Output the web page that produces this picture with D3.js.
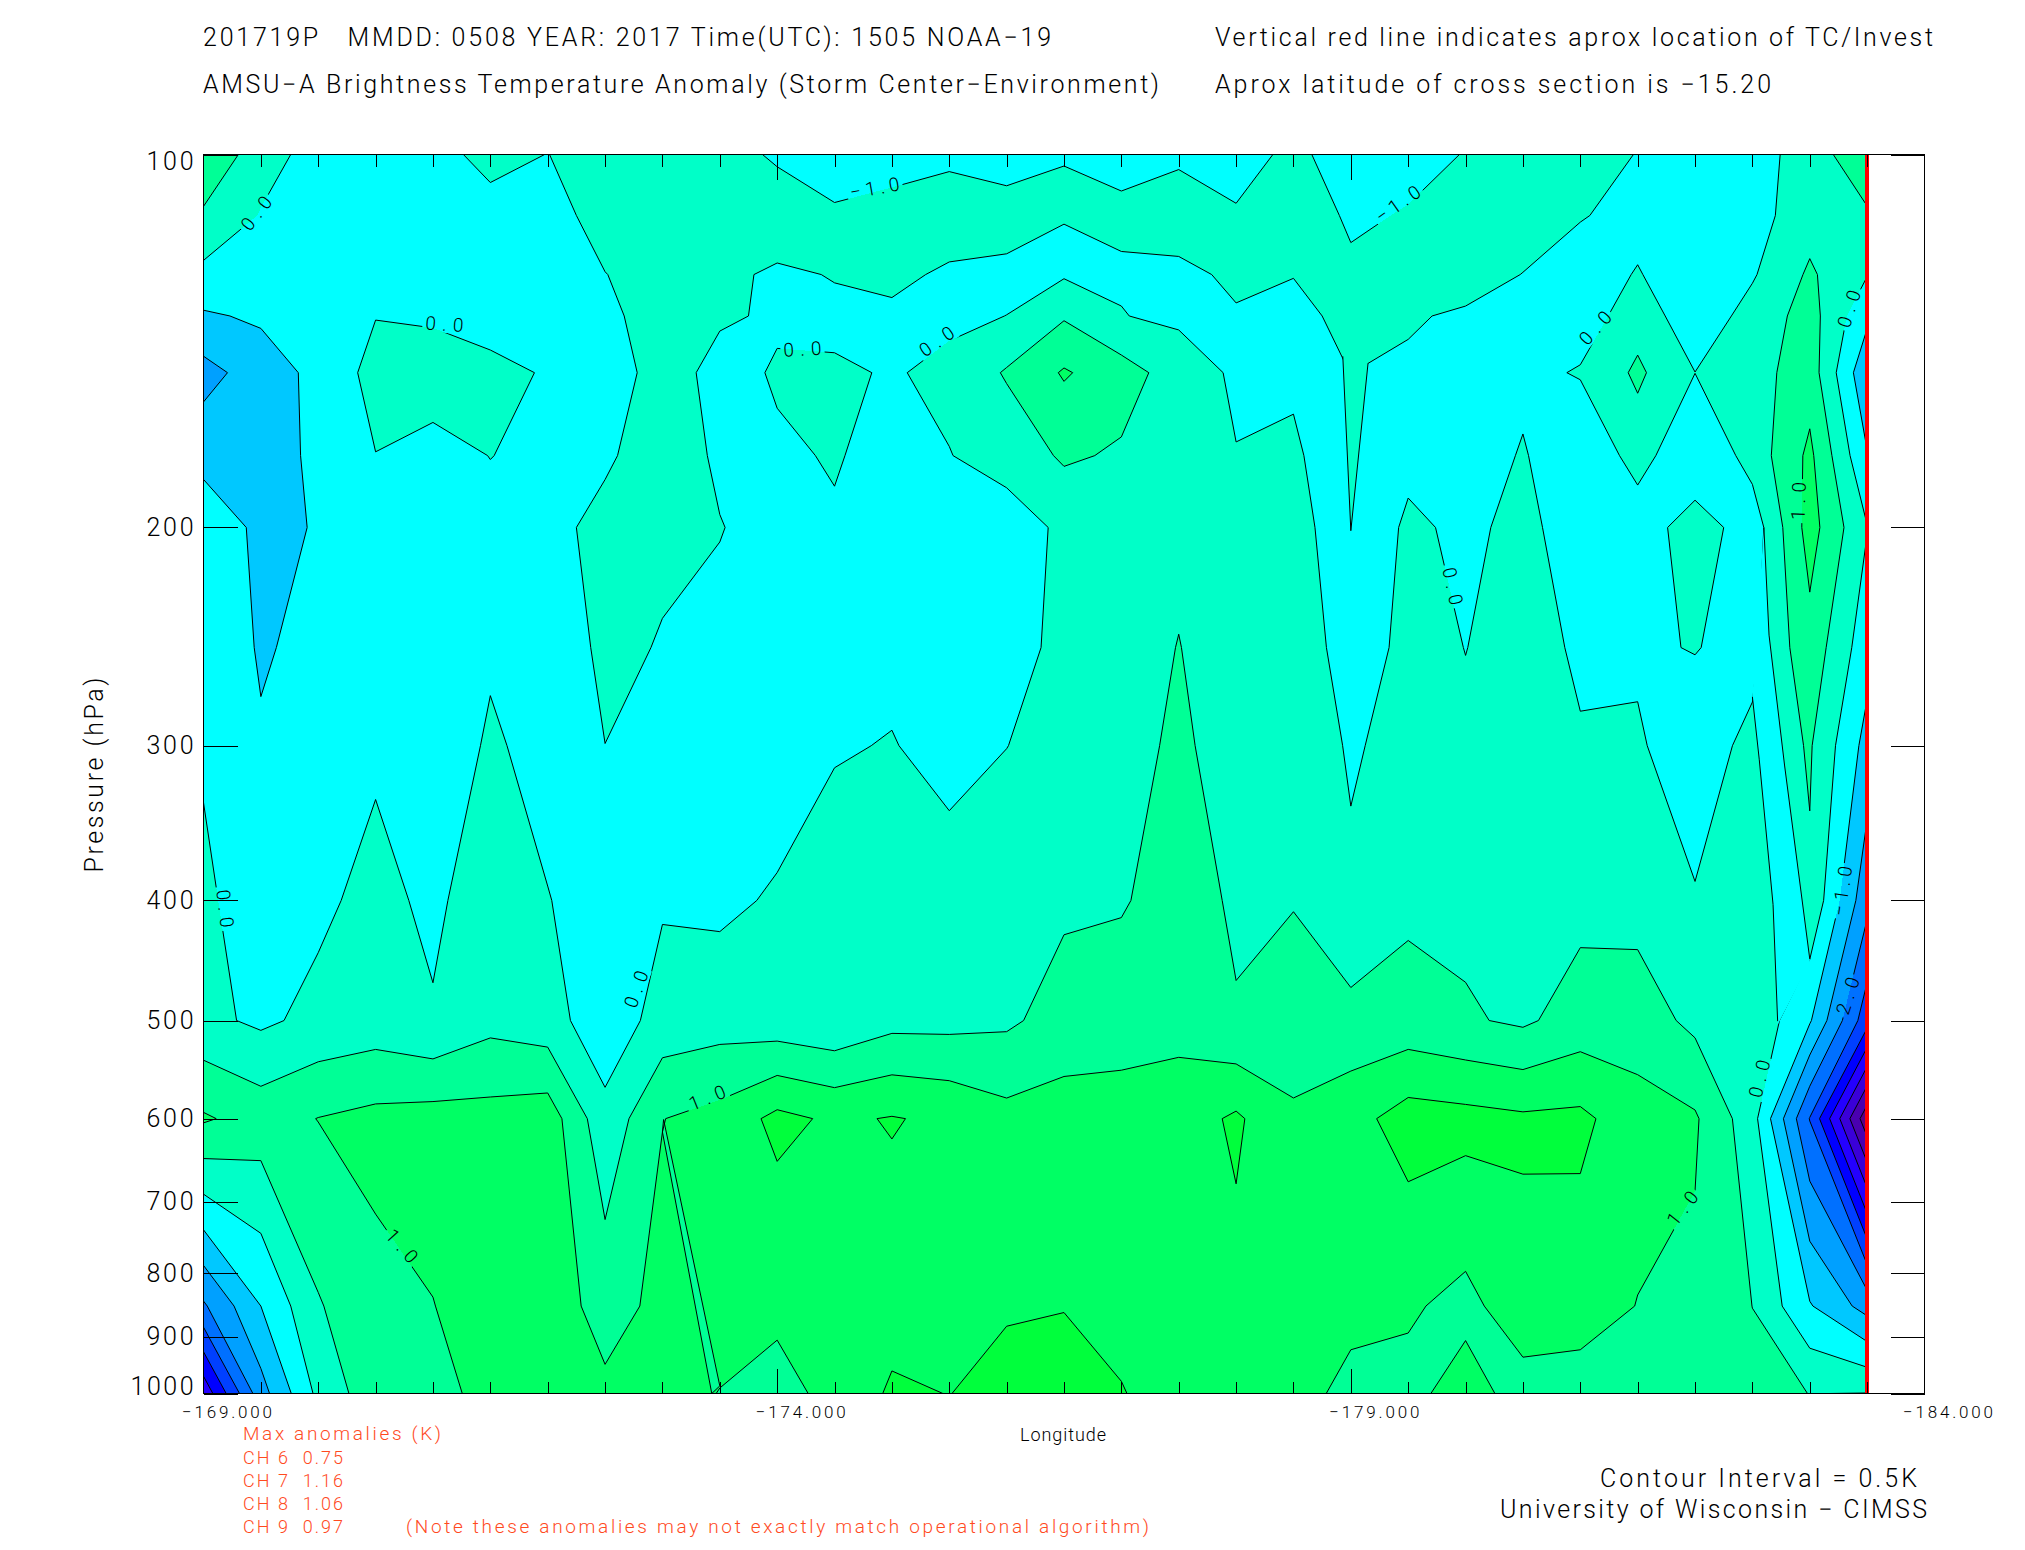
<!DOCTYPE html>
<html>
<head>
<meta charset="utf-8">
<script src="https://cdn.jsdelivr.net/npm/d3@7"></script>
<style>
html,body{margin:0;padding:0;background:#fff}
svg{display:block}
text{font-family:Roboto,"Liberation Sans",sans-serif;font-weight:300;fill:#000}
.axis path{display:none}
.axis line{stroke:#000;shape-rendering:crispEdges}
.axis text{font-size:17px}
</style>
</head>
<body>
<script>
// Pressure levels (hPa) of the grid rows and longitudes of the grid columns
const pressureLevels = [100,112,125,135,150,175,200,250,300,400,500,600,850,1000];
const longitudes = d3.range(30).map(i => -169 - i * 0.5);
const pressureTicks = [100,200,300,400,500,600,700,800,900,1000];
const lonMajor = [-169,-174,-179,-184];
const lonMinor = d3.range(31).map(i => -169 - i * 0.5);
const contourLevels = [-4.5,-4,-3.5,-3,-2.5,-2,-1.5,-1,-0.5,0,0.5,1,1.5];

// Brightness temperature anomaly (K), one array per longitude, top to bottom
const c00=[0.98,0.416,-0.131,-0.56,-1.18,-0.67,-0.157,-0.12,-0.06,0.103,0.12,1.06,-1.57,-3.35];
const c01=[0.19,-0.028,-0.2,-0.43,-0.75,-0.68,-0.617,-0.55,-0.45,-0.3,-0.088,0.789,-0.5,-1.2];
const c02=[-0.175,-0.15,-0.2,-0.27,-0.367,-0.42,-0.472,-0.365,-0.25,-0.1,0.13,1.01,0.46,0.12];
const c03=[-0.2,-0.15,-0.146,-0.013,0.167,-0.008,-0.183,-0.2,-0.08,0.15,0.235,1.135,0.87,0.83];
const c04=[-0.2,-0.2,-0.183,-0.04,0.15,-0.1,-0.357,-0.3,-0.25,-0.109,0.05,1.2,0.99,0.88];
const c05=[0.177,-0.208,-0.4,-0.18,0.12,0.005,-0.087,-0.05,0.052,0.31,0.353,1.183,1.22,1.115];
const c06=[-0.01,-0.2,-0.25,-0.15,-0.036,-0.07,-0.1,-0.27,-0.127,0.013,0.21,1.28,1.28,1.2];
const c07=[0.3,0.2,-0.01,-0.09,-0.2,-0.05,0.1,0.09,-0.002,-0.17,-0.32,0.15,0.8,1.1];
const c08=[0.3,0.25,0.2,0.18,0.157,0.18,0.07,-0.0225,-0.08,-0.05,0.2,0.99,1.13,1.15];
const c09=[0.3,0.25,0.147,0.04,-0.11,-0.05,0.011,-0.08,-0.1,-0.1,0.285,1.168,1.15,0.99];
const c10=[-0.103,0.41,-0.1,-0.04,0.03,-0.04,-0.108,-0.2,-0.25,0.055,0.2,1.63,1.06,0.906];
const c11=[-0.1,0.027,0.03,-0.12,0.065,0.02,-0.027,-0.2,-0.05,0.3,0.09,1.42,1.25,1.08];
const c12=[-0.1,0.085,0.1,-0.08,-0.035,-0.09,-0.15,-0.15,0.028,0.15,0.345,1.528,1.27,1.58];
const c13=[-0.1,0.257,-0.07,-0.075,0.096,-0.012,-0.12,-0.25,-0.2,0.276,0.35,1.41,1.3,1.49];
const c14=[-0.2,0.19,-0.103,0.003,0.55,0.17,-0.21,-0.15,-0.005,0.25,0.416,1.155,1.44,1.7];
const c15=[-0.002,0.0086,-0.05,0.45,1.05,0.574,0.08,0.1,0.15,0.42,0.7,1.226,1.48,1.75];
const c16=[-0.1,0.067,-0.043,0.0136,0.72,0.436,0.19,0.25,0.3,0.45,0.8,1.195,1.42,1.513];
const c17=[-0.1,0.305,-0.135,-0.085,0.26,0.32,0.38,0.515,0.6,0.75,0.85,1.25,1.37,1.38];
const c18=[-0.1,0.025,0.1,-0.046,-0.076,0.015,0.105,0.2,0.25,0.42,0.54,1.58,1.35,1.38];
const c19=[0.056,0.2,0.01,-0.1,-0.1,0.1,0.03,0.27,0.3,0.47,0.79,1.056,1.35,1.2];
const c20=[-0.119,-0.05,0.059,0.1,0.002,-0.45,-0.05,-0.2,-0.05,0.078,0.66,1.32,1.15,0.85];
const c21=[-0.1,0.022,0.2,0.045,-0.064,-0.0144,0.01,0.1,0.15,0.4,0.7,1.72,1.067,0.85];
const c22=[0.012,0.1,0.2,-0.063,-0.1,-0.35,-0.011,-0.004,0.046,0.38,0.556,1.66,0.85,1.23];
const c23=[0.2,0.25,-0.01,-0.1,-0.15,0.053,0.014,0.1,0.2,0.35,0.42,1.58,1.31,0.78];
const c24=[0.1,0.02,-0.157,-0.283,0.046,-0.49,-0.027,-0.037,0.02,0.36,0.716,1.61,1.235,0.765];
const c25=[-0.008,-0.1,0.02,0.3,0.59,0.227,-0.327,-0.037,0.03,0.33,0.745,1.207,0.987,0.7];
const c26=[-0.15,-0.2,-0.2,-0.325,0.004,-0.49,0.3,0.012,-0.15,0.021,0.38,1.06,0.905,0.65];
const c27=[-0.15,-0.2,-0.05,0.188,0.3,0.2,-0.3,-0.1,0.08,0.2,0.4,0.2,0.497,0.62];
const c28=[0.16,0.3,0.574,0.7,0.77,1.11,1.21,0.82,0.551,0.43,-0.447,-2.02,-0.46,0.495];
const c29=[0.99,0.41,0.02,-0.384,-0.9,-0.47,0.02,-0.3,-0.677,-1.35,-2.3,-4.85,-1.19,0.51];
const columns=[c00,c01,c02,c03,c04,c05,c06,c07,c08,c09,c10,c11,c12,c13,c14,c15,c16,c17,c18,c19,c20,c21,c22,c23,c24,c25,c26,c27,c28,c29];

// Features narrower than a grid cell, as longitude / pressure outlines
const valleyLon=[-173.0,-173.43,-173.5,-173.01];
const valleyPressure=[615,1000,986,601];
const spikeLon=[-178.93,-179.0,-179.15];
const spikePressure=[145.5,201.2,147.4];
const stripRightLon=[-182.60,-182.645,-182.78,-183.0];
const stripRightPressure=[200,244.3,311,446];
const stripLeftLon=[-182.72,-182.68,-182.56,-182.50];
const stripLeftPressure=[500.6,403,308,274];
const stripFillLon=[-183.0,-182.72];
const stripFillPressure=[449,504];

// In-line contour labels: text, longitude, pressure, angle
const labelText=["0.0","0.0","0.0","0.0","\u22121.0","\u22121.0","0.0","0.0","1.0","0.0","0.0","0.0","1.0","1.0","0.0","1.0","\u22121.0","2.0"];
const labelLon=[-169.46,-171.10,-174.22,-175.39,-174.85,-179.41,-181.13,-183.34,-182.90,-179.89,-169.19,-172.77,-170.73,-173.39,-182.56,-181.89,-183.28,-183.33];
const labelPressure=[111.5,137,143.5,141.5,106.4,109.6,138,133.2,190.4,223,406,471.7,760,577,557,708.6,393,477.5];
const labelAngle=[-52,4,-3,-35,-10,-35,-48,-72,-88,78,83,-70,48,-22,-76,-52,-82,-72];

const bandColors=["#5a0085","#4a00b0","#3a00d8","#2400ff","#0000ff","#0040ff","#0070ff","#00a0ff","#00c8ff","#00ffff","#00ffc8","#00ff96","#00ff64","#00ff3c"];

const W=2025,H=1550;
const x=d3.scaleLinear().domain([-169,-184]).range([203.5,1924.5]);
const y=d3.scaleLog().domain([100,1000]).range([154.5,1393.5]);
const svg=d3.select("body").append("svg").attr("width",W).attr("height",H);
svg.append("rect").attr("width",W).attr("height",H).attr("fill","#fff");

const nx=longitudes.length, ny=pressureLevels.length;
const flat=[];
for(let j=0;j<ny;j++) for(let i=0;i<nx;i++) flat.push(columns[i][j]);

// grid coordinates -> pixels
function gx(v){return x(-169-0.5*(v-0.5));}
function gy(v){
  const r=v-0.5, k=Math.max(0,Math.min(ny-2,Math.floor(r)));
  const a=y(pressureLevels[k]), b=y(pressureLevels[k+1]);
  return a+(b-a)*(r-k);
}
const path=d3.geoPath(d3.geoTransform({point(px,py){this.stream.point(gx(px),gy(py));}}));
const contours=d3.contours().size([nx,ny]).thresholds(contourLevels)(flat);

const right=x(longitudes[nx-1]);
const defs=svg.append("defs");
defs.append("clipPath").attr("id","plot").append("rect")
  .attr("x",x(-169)).attr("y",y(100)).attr("width",right-x(-169)).attr("height",y(1000)-y(100));

const labels=labelText.map((t,i)=>({t,px:x(labelLon[i]),py:y(labelPressure[i]),a:labelAngle[i],w:t.length>3?50:38}));

const mask=defs.append("mask").attr("id","gaps").attr("maskUnits","userSpaceOnUse")
  .attr("x",0).attr("y",0).attr("width",W).attr("height",H);
mask.append("rect").attr("width",W).attr("height",H).attr("fill","#fff");
mask.selectAll("rect.g").data(labels).join("rect").attr("class","g")
  .attr("x",d=>-d.w/2-3).attr("y",-9).attr("width",d=>d.w+6).attr("height",18).attr("fill","#000")
  .attr("transform",d=>`translate(${d.px},${d.py}) rotate(${d.a})`);

const plot=svg.append("g").attr("clip-path","url(#plot)");
plot.append("rect").attr("x",x(-169)).attr("y",y(100)).attr("width",right-x(-169)).attr("height",y(1000)-y(100)).attr("fill",bandColors[0]);
plot.append("g").selectAll("path").data(contours).join("path")
  .attr("d",path).attr("fill",(d,i)=>bandColors[i+1]).attr("stroke","none").attr("shape-rendering","crispEdges");

const outline=(lons,ps,closed)=>d3.line().x((d,i)=>x(lons[i])).y((d,i)=>y(ps[i])).curve(closed?d3.curveLinearClosed:d3.curveLinear)(lons);
plot.append("path").attr("d",outline(valleyLon,valleyPressure,true)).attr("fill",bandColors[11]).attr("shape-rendering","crispEdges");

const lines=plot.append("g").attr("mask","url(#gaps)");
lines.selectAll("path.c").data(contours).join("path").attr("class","c")
  .attr("d",path).attr("fill","none").attr("stroke","#000").attr("stroke-width",1);
lines.append("path").attr("d",outline(valleyLon,valleyPressure,true)).attr("fill","none").attr("stroke","#000").attr("stroke-width",1);

// sub-cell features painted over the field
const stripLons=[...stripRightLon,...stripFillLon,...stripLeftLon.slice(1)];
const stripPs=[...stripRightPressure,...stripFillPressure,...stripLeftPressure.slice(1)];
plot.append("path").attr("d",outline(stripLons,stripPs,true)).attr("fill",bandColors[9]).attr("stroke","none");
plot.append("path").attr("d",outline(spikeLon,spikePressure,true)).attr("fill",bandColors[10]).attr("stroke","none");
[[stripRightLon,stripRightPressure],[stripLeftLon,stripLeftPressure],[spikeLon,spikePressure]].forEach(([a,b])=>{
  plot.append("path").attr("d",outline(a,b,false)).attr("fill","none").attr("stroke","#000").attr("stroke-width",1);
});

// contour labels
svg.append("g").selectAll("text").data(labels).join("text")
  .attr("transform",d=>`translate(${d.px},${d.py}) rotate(${d.a})`)
  .attr("text-anchor","middle").attr("dy","0.36em")
  .attr("font-size",19).attr("textLength",d=>d.w).attr("lengthAdjust","spacing")
  .text(d=>d.t);

// red TC line
svg.append("line").attr("x1",right).attr("x2",right).attr("y1",y(100)).attr("y2",y(1000))
  .attr("stroke","#ff0000").attr("stroke-width",4).attr("shape-rendering","crispEdges");

// frame
svg.append("rect").attr("x",x(-169)).attr("y",y(100)).attr("width",x(-184)-x(-169)).attr("height",y(1000)-y(100))
  .attr("fill","none").attr("stroke","#000").attr("stroke-width",1).attr("shape-rendering","crispEdges");

// axes
const minorOnly=lonMinor.filter(v=>!lonMajor.includes(v));
const interior=lonMajor.slice(1,-1);
const fmt=v=>"\u2212"+Math.abs(v).toFixed(3);
svg.append("g").attr("class","axis").attr("transform",`translate(0,${y(1000)})`)
  .call(d3.axisBottom(x).tickValues(minorOnly).tickSize(-12).tickFormat(""));
svg.append("g").attr("class","axis").attr("transform",`translate(0,${y(100)})`)
  .call(d3.axisTop(x).tickValues(minorOnly).tickSize(-12).tickFormat(""));
const xMajor=svg.append("g").attr("class","axis").attr("transform",`translate(0,${y(1000)})`)
  .call(d3.axisBottom(x).tickValues(lonMajor).tickSize(0).tickPadding(15).tickFormat(fmt));
xMajor.selectAll("text").attr("dx",23).attr("textLength",90).attr("lengthAdjust","spacing").attr("y",12).attr("dy","0.71em");
svg.append("g").attr("class","axis").attr("transform",`translate(0,${y(1000)})`)
  .call(d3.axisBottom(x).tickValues(interior).tickSize(-25).tickFormat(""));
svg.append("g").attr("class","axis").attr("transform",`translate(0,${y(100)})`)
  .call(d3.axisTop(x).tickValues(interior).tickSize(-25).tickFormat(""));

const yLeft=svg.append("g").attr("class","axis").attr("transform",`translate(${x(-169)},0)`)
  .call(d3.axisLeft(y).tickValues(pressureTicks).tickSize(-34).tickPadding(10).tickFormat(d3.format("d")));
yLeft.selectAll("text").attr("x",-10).style("font-size","25px")
  .attr("dy",d=>d===100?"0.6em":d===1000?"0.05em":"0.32em")
  .attr("textLength",d=>d===1000?63:47).attr("lengthAdjust","spacing");
svg.append("g").attr("class","axis").attr("transform",`translate(${x(-184)},0)`)
  .call(d3.axisRight(y).tickValues(pressureTicks).tickSize(-34).tickFormat(""));

// free texts
function txt(s,x0,base,size,len,color){
  const t=svg.append("text").attr("x",x0).attr("y",base).attr("font-size",size)
    .attr("textLength",len).attr("lengthAdjust","spacing").text(s).style("white-space","pre");
  if(color) t.style("fill",color);
  return t;
}
txt("201719P   MMDD: 0508 YEAR: 2017 Time(UTC): 1505 NOAA\u221219",203,46,25,848);
txt("AMSU\u2212A Brightness Temperature Anomaly (Storm Center\u2212Environment)",203,93,25,956);
txt("Vertical red line indicates aprox location of TC/Invest",1215,46,25,718);
txt("Aprox latitude of cross section is \u221215.20",1215,93,25,556);
txt("Longitude",1020,1441,18,86);
const orange="#ff4a1e";
txt("Max anomalies (K)",243,1440,19,198,orange);
txt("CH 6  0.75",243,1464,18,100,orange);
txt("CH 7  1.16",243,1487,18,100,orange);
txt("CH 8  1.06",243,1510,18,100,orange);
txt("CH 9  0.97",243,1533,18,100,orange);
txt("(Note these anomalies may not exactly match operational algorithm)",406,1533,19,743,orange);
txt("Contour Interval = 0.5K",1600,1487,25,317);
txt("University of Wisconsin \u2212 CIMSS",1500,1518,25,427);
svg.append("text").attr("transform","translate(103,775) rotate(-90)").attr("text-anchor","middle")
  .attr("font-size",25).attr("textLength",195).attr("lengthAdjust","spacing").text("Pressure (hPa)");
</script>
</body>
</html>
